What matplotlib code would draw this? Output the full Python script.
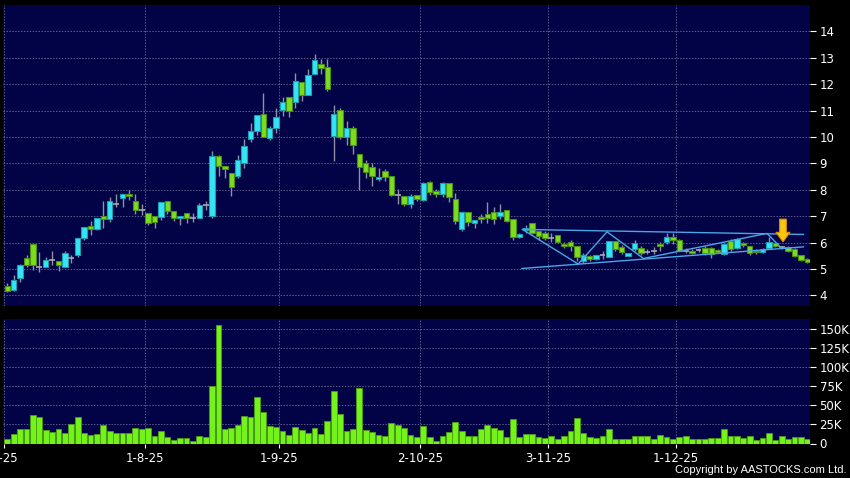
import matplotlib
matplotlib.use("Agg")
import matplotlib.pyplot as plt
from matplotlib.ticker import FuncFormatter
from matplotlib.patches import FancyArrow
from matplotlib.transforms import ScaledTranslation
import numpy as np

# daily candles, 2 Jul 2025 onwards (index = trading day)
opens = [4.35, 4.20, 4.67, 5.41, 5.93, 5.06, 5.09, 5.36, 5.29, 5.09, 5.41, 5.53, 6.18, 6.63, 6.50, 7.00, 6.91, 7.47, 7.70, 7.86,
         7.57, 7.22, 7.14, 6.99, 6.96, 7.59, 7.18, 6.92, 7.11, 6.92, 6.92, 7.43, 7.01, 9.27, 8.91, 8.63, 8.54, 9.01, 9.92, 10.22,
         10.87, 9.96, 10.33, 11.01, 11.52, 11.33, 12.09, 11.58, 12.37, 12.77, 12.66, 10.03, 11.04, 10.00, 10.34, 9.35, 9.00, 8.87, 8.41, 8.70,
         8.53, 7.81, 7.78, 7.48, 7.80, 7.62, 8.31, 7.94, 7.86, 8.24, 7.67, 6.50, 7.17, 6.75, 6.98, 7.10, 7.17, 7.00, 7.25, 6.88,
         6.20, 6.47, 6.73, 6.43, 6.36, 6.19, 6.30, 5.94, 6.02, 5.86, 5.29, 5.48, 5.38, 5.52, 5.45, 6.08, 5.82, 5.50, 5.77, 5.79,
         5.64, 5.67, 5.94, 6.02, 6.23, 6.11, 5.70, 5.68, 5.73, 5.79, 5.79, 5.73, 5.58, 6.08, 5.79, 6.00, 5.86, 5.70, 5.65, 5.79,
         6.00, 5.82, 5.83, 5.75, 5.52, 5.38]
highs = [4.48, 4.77, 5.20, 5.55, 5.95, 5.64, 5.44, 5.68, 5.30, 5.68, 5.52, 6.16, 6.60, 6.82, 6.93, 7.57, 7.72, 7.83, 7.86, 7.99,
         7.85, 7.47, 7.14, 6.99, 7.53, 7.59, 7.18, 7.00, 7.11, 7.11, 7.49, 7.58, 9.48, 9.30, 8.91, 8.63, 9.33, 9.94, 10.53, 10.82,
         11.65, 10.40, 11.10, 11.52, 11.52, 12.41, 12.09, 12.58, 13.15, 12.94, 12.94, 11.20, 11.10, 10.59, 10.43, 9.35, 9.14, 9.00, 8.82, 8.78,
         8.53, 8.03, 7.78, 7.83, 7.80, 8.28, 8.34, 8.03, 8.31, 8.24, 7.87, 7.17, 7.17, 6.84, 7.07, 7.54, 7.36, 7.48, 7.25, 6.88,
         6.37, 6.65, 6.73, 6.43, 6.45, 6.36, 6.30, 6.04, 6.11, 5.86, 5.60, 5.52, 5.52, 5.69, 6.08, 6.08, 5.92, 5.60, 6.11, 5.86,
         5.77, 5.82, 6.04, 6.36, 6.36, 6.13, 5.79, 5.75, 5.79, 5.86, 5.83, 5.77, 5.98, 6.13, 6.17, 6.04, 5.88, 5.75, 5.79, 6.23,
         6.04, 5.88, 5.88, 5.79, 5.54, 5.42]
lows = [4.13, 4.18, 4.52, 5.09, 4.98, 4.90, 5.06, 5.15, 4.93, 5.06, 5.21, 5.46, 6.10, 6.29, 6.47, 6.56, 6.78, 7.36, 7.36, 7.61,
        7.10, 7.05, 6.67, 6.54, 6.84, 7.08, 6.82, 6.67, 6.73, 6.80, 6.92, 7.22, 6.95, 8.51, 8.44, 7.78, 8.44, 8.82, 9.80, 10.09,
        9.99, 9.90, 10.15, 10.78, 10.76, 11.10, 11.38, 11.58, 12.37, 12.37, 11.73, 9.08, 9.94, 9.71, 9.37, 8.00, 8.44, 8.16, 8.35, 8.35,
        7.77, 7.46, 7.37, 7.32, 7.58, 7.58, 7.80, 7.73, 7.71, 7.54, 6.69, 6.43, 6.62, 6.56, 6.75, 6.73, 6.69, 6.88, 6.78, 6.09,
        6.18, 6.37, 6.31, 6.11, 6.11, 6.04, 5.98, 5.79, 5.67, 5.29, 5.23, 5.29, 5.36, 5.38, 5.44, 5.69, 5.57, 5.48, 5.67, 5.54,
        5.57, 5.57, 5.69, 5.94, 5.94, 5.67, 5.60, 5.57, 5.63, 5.54, 5.42, 5.62, 5.54, 5.70, 5.75, 5.83, 5.54, 5.58, 5.60, 5.75,
        5.83, 5.76, 5.63, 5.45, 5.29, 5.23]
closes = [4.17, 4.58, 5.17, 5.15, 5.15, 5.06, 5.34, 5.36, 5.16, 5.59, 5.41, 6.16, 6.58, 6.53, 6.92, 6.91, 7.56, 7.47, 7.84, 7.78,
          7.23, 7.22, 6.73, 6.80, 7.53, 7.18, 6.92, 7.00, 6.92, 6.92, 7.43, 7.43, 9.27, 8.89, 8.78, 8.10, 9.14, 9.67, 10.24, 10.82,
          9.99, 10.33, 10.76, 11.33, 10.97, 12.11, 11.58, 12.35, 12.91, 12.62, 11.82, 10.87, 10.00, 10.34, 9.68, 8.86, 8.67, 8.51, 8.48, 8.48,
          7.81, 7.81, 7.47, 7.75, 7.64, 8.24, 7.92, 7.86, 8.24, 7.71, 6.82, 7.17, 6.78, 6.84, 6.90, 6.92, 6.90, 7.17, 6.82, 6.20,
          6.33, 6.56, 6.37, 6.24, 6.19, 6.19, 6.02, 5.86, 5.86, 5.44, 5.52, 5.38, 5.52, 5.52, 6.08, 5.77, 5.64, 5.60, 5.98, 5.60,
          5.64, 5.67, 5.86, 6.23, 6.11, 5.70, 5.70, 5.60, 5.73, 5.60, 5.58, 5.65, 5.94, 5.75, 6.13, 5.92, 5.60, 5.63, 5.75, 6.02,
          5.86, 5.82, 5.67, 5.48, 5.33, 5.25]
volumes_k = [6.1, 12.3, 18.9, 18.9, 37.3, 34.2, 17.5, 14.9, 18.9, 14.0, 25.9, 35.1, 13.6, 11.4, 12.3, 23.7, 16.7, 13.2, 13.2, 13.2, 20.6,
             18.4, 20.2, 9.2, 15.8, 8.8, 4.8, 7.5, 7.5, 3.9, 9.6, 7.9, 75.0, 155.7, 18.4, 19.7, 24.1, 35.5, 34.6, 61.0, 41.7,
             23.2, 21.5, 16.2, 11.4, 21.5, 17.1, 14.0, 19.7, 12.7, 28.9, 68.9, 39.0, 16.7, 18.9, 72.8, 17.5, 15.4, 11.0, 9.6, 26.8,
             24.1, 20.2, 11.0, 8.8, 22.8, 8.3, 3.9, 10.5, 14.5, 27.6, 15.8, 10.5, 10.5, 18.4, 24.1, 20.2, 18.0, 7.9, 31.6, 8.8,
             12.7, 12.7, 8.8, 7.5, 9.6, 5.3, 9.6, 16.2, 32.9, 13.2, 8.3, 6.6, 10.1, 19.3, 5.7, 5.3, 5.3, 10.5, 9.6, 9.6,
             5.7, 11.8, 8.8, 6.1, 8.8, 9.6, 5.7, 5.7, 5.7, 7.5, 7.5, 18.4, 9.6, 9.6, 7.5, 9.6, 4.4, 7.5, 14.0, 4.4, 9.6, 5.7, 8.3, 8.3, 5.3]

# month labels and the trading-day index of each labelled date
date_labels = ["2-7-25", "1-8-25", "1-9-25", "2-10-25", "3-11-25", "1-12-25"]
date_index = [0, 22, 43, 65, 85, 105]

# drawn pattern lines (index, price)
zigzag_idx = [80.5, 89.2, 93.7, 99.4, 118.7, 121.0]
zigzag_px = [6.50, 5.19, 6.41, 5.40, 6.35, 5.78]
upper_idx, upper_px = [80.5, 124.4], [6.50, 6.31]
lower_idx, lower_px = [80.4, 124.4], [5.02, 5.84]
arrow_idx, arrow_top, arrow_tip = 121.2, 6.89, 6.03

BG = "#020246"
GRID = "#5c5c8c"
UP = "#35e4f2"
UP_EDGE = "#1a9fb0"
DOWN = "#7cdc1e"
DOWN_EDGE = "#4a9012"
FLAT = "#a8a8b8"
WICK = "#9090a0"
LINE = "#4aa6e6"

def style_axes(ax):
    ax.set_facecolor(BG)
    for s in ax.spines.values():
        s.set_visible(False)
    ax.yaxis.tick_right()
    ax.tick_params(axis="y", colors="white", labelsize=8.5, length=4, width=0.8, pad=3)
    ax.grid(True, color=GRID, linestyle=(0, (1.5, 1.5)), linewidth=0.7)
    ax.set_axisbelow(True)

#--------------------------------------------------------------------------------
fig = plt.figure(figsize=(8.5, 4.78), dpi=100)
fig.patch.set_facecolor("black")

W, H = 850.0, 478.0
x_lo, x_hi = -0.6, 125.4
left_px = 7.3 - 0.6 * 6.4
width_px = (x_hi - x_lo) * 6.4
ax_p = fig.add_axes([left_px / W, 1 - 306 / H, width_px / W, (306 - 5) / H])
ax_v = fig.add_axes([left_px / W, 1 - 443.5 / H, width_px / W, (443.5 - 319) / H])

x = np.arange(len(opens))
o = np.array(opens)
c = np.array(closes)
hi = np.array(highs)
lo = np.array(lows)

style_axes(ax_p)
ax_p.vlines(x, lo, hi, color=WICK, linewidth=1, zorder=2)
up = c > o
down = c < o
flat = c == o
ax_p.bar(x[up], (c - o)[up], bottom=o[up], width=0.82, color=UP, edgecolor=UP_EDGE, linewidth=0.8, zorder=3)
ax_p.bar(x[down], (o - c)[down], bottom=c[down], width=0.82, color=DOWN, edgecolor=DOWN_EDGE, linewidth=0.8, zorder=3)
ax_p.hlines(c[flat], x[flat] - 0.45, x[flat] + 0.45, color=FLAT, linewidth=1.2, zorder=3)

ax_p.plot(upper_idx, upper_px, color=LINE, linewidth=1, zorder=4)
ax_p.plot(lower_idx, lower_px, color=LINE, linewidth=1, zorder=4)
ax_p.plot(zigzag_idx, zigzag_px, color=LINE, linewidth=1, zorder=4)
head_len = 0.36
ax_p.add_patch(FancyArrow(arrow_idx, arrow_top, 0, -(arrow_top - arrow_tip - head_len), width=1.05,
                          head_width=2.2, head_length=head_len, length_includes_head=False,
                          facecolor="#f7c514", edgecolor="#e08c00", linewidth=0.8, zorder=5))

ax_p.set_xlim(x_lo, x_hi)
ax_p.set_ylim(3.6, 15.0)
ax_p.set_yticks(range(4, 15))
grid_x = [d - 0.55 for d in date_index]
ax_p.set_xticks(grid_x)
ax_p.tick_params(axis="x", length=0, labelbottom=False)

style_axes(ax_v)
ax_v.bar(x, np.array(volumes_k) * 1000, width=0.88, color="#74f21a", edgecolor="#48a010", linewidth=0.6, zorder=3)
ax_v.set_xlim(x_lo, x_hi)
ax_v.set_ylim(0, 163500)
ax_v.set_yticks(range(0, 150001, 25000))
ax_v.yaxis.set_major_formatter(FuncFormatter(lambda v, p: "0" if v == 0 else "%dK" % (v / 1000)))
ax_v.set_xticks(grid_x)
ax_v.set_xticklabels(date_labels)
ax_v.tick_params(axis="x", colors="white", labelsize=8.5, length=3, width=0.8, pad=3)

# first month label sits half off the left edge, as in the original
first = ax_v.get_xticklabels()[0]
first.set_transform(first.get_transform() + ScaledTranslation(-5 / 100, 0, fig.dpi_scale_trans))

fig.text(0.996, 0.006, "Copyright by AASTOCKS.com Ltd.", ha="right", va="bottom", color="white",
         fontsize=8, family=["Liberation Sans", "DejaVu Sans"])

fig.savefig("out.png", dpi=100, facecolor=fig.get_facecolor())
